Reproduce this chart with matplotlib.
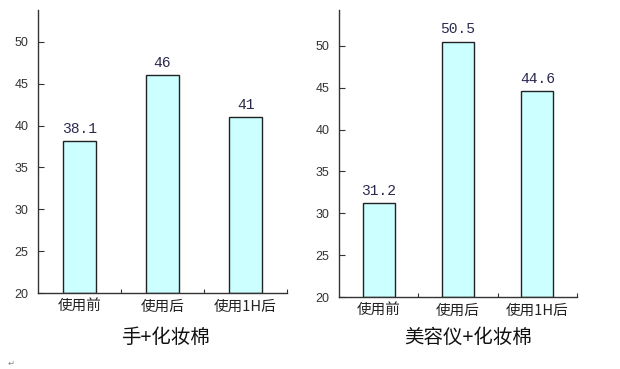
import matplotlib
matplotlib.use("Agg")
import matplotlib.pyplot as plt
from matplotlib.ticker import FixedLocator

plt.rcParams['font.family'] = ['Noto Sans CJK SC', 'DejaVu Sans']

categories = ["使用前", "使用后", "使用1H后"]
left_values = [38.1, 46, 41]
left_labels = ["38.1", "46", "41"]
right_values = [31.2, 50.5, 44.6]
right_labels = ["31.2", "50.5", "44.6"]
yticks = [20, 25, 30, 35, 40, 45, 50]
titles = ["手+化妆棉", "美容仪+化妆棉"]

W, H = 620, 369
fig = plt.figure(figsize=(W / 100, H / 100), dpi=100)

def make_ax(x0, x1, ytop, ybot, ymax, values, labels):
    ax = fig.add_axes([x0 / W, (H - ybot) / H, (x1 - x0) / W, (ybot - ytop) / H])
    xs = range(len(values))
    ax.bar(xs, [v - 20 for v in values], bottom=20, width=0.4, color="#CCFFFF",
           edgecolor="#222222", linewidth=1.0)
    ax.set_xlim(-0.5, len(values) - 0.5)
    ax.set_ylim(20, ymax)
    for s in ["top", "right"]:
        ax.spines[s].set_visible(False)
    for s in ["left", "bottom"]:
        ax.spines[s].set_color("#333333")
        ax.spines[s].set_linewidth(1.0)
    ax.set_yticks(yticks)
    ax.set_yticklabels([str(t) for t in yticks], fontsize=9, color="#333333",
                       family=["Liberation Sans", "DejaVu Sans"])
    ax.tick_params(axis="y", direction="in", length=4, width=0.8, color="#333333", pad=7)
    ax.set_xticks(list(xs))
    ax.set_xticklabels(categories, fontsize=10.5, color="#222222")
    ax.tick_params(axis="x", which="major", length=0, pad=5)
    ax.xaxis.set_minor_locator(FixedLocator([0.5, 1.5, 2.5]))
    ax.tick_params(axis="x", which="minor", direction="in", length=3, width=0.8, color="#333333")
    for x, v, lab in zip(xs, values, labels):
        ax.annotate(lab, (x, v), xytext=(0, 4), textcoords="offset points",
                    ha="center", va="bottom", fontsize=10.5, color="#2a2a50",
                    family=["Liberation Mono", "DejaVu Sans Mono"])
    return ax

make_ax(38, 287, 10, 293, 53.8, left_values, left_labels)
make_ax(339, 577, 10, 297, 54.3, right_values, right_labels)

fig.text(165 / W, 1 - 337 / H, titles[0], ha="center", va="center", fontsize=14, color="#111111")
fig.text(468 / W, 1 - 337 / H, titles[1], ha="center", va="center", fontsize=14, color="#111111")
fig.text(11 / W, 1 - 363 / H, "↵", ha="center", va="center", fontsize=6, color="#888888",
         family=["DejaVu Sans"])

fig.savefig("out.png", dpi=100, facecolor="white")
